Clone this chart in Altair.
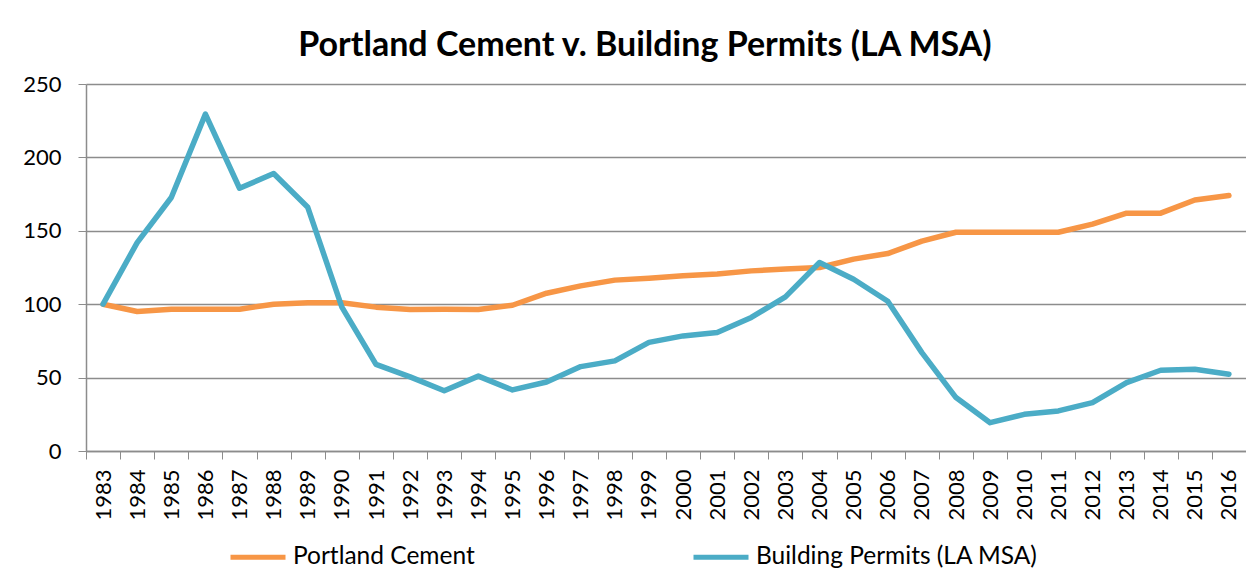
import altair as alt
import pandas as pd

years = list(range(1983, 2017))
cement = [100, 95, 96.6, 96.6, 96.6, 100, 101, 101, 98, 96.4, 96.6, 96.4, 99.3,
          107.5, 112.5, 116.4, 117.7, 119.3, 120.5, 122.7, 124, 125, 130.7, 134.5,
          143, 149, 149, 149, 149, 154.5, 162, 162, 171, 174]
permits = [100, 142, 172.7, 229.5, 179, 189, 166, 98, 59, 50.5, 41, 51, 41.6,
           47, 57.5, 61.4, 74, 78.4, 80.7, 91, 105, 128.4, 117, 102, 67, 36.4,
           19.3, 25, 27.3, 33, 46.6, 55, 55.7, 52.3]
series_names = ["Portland Cement", "Building Permits (LA MSA)"]
series_colors = ["#F79646", "#4BACC6"]

rows = []
for y, c, p in zip(years, cement, permits):
    rows.append({"Year": str(y), "Series": series_names[0], "Value": c})
    rows.append({"Year": str(y), "Series": series_names[1], "Value": p})
df = pd.DataFrame(rows)

FONT = "Lato"
GRID = "#8C8C8C"

chart = alt.Chart(df).mark_line(strokeWidth=5.5, strokeCap="round", strokeJoin="round").encode(
    x=alt.X("Year:O", title=None, bandPosition=0.5,
            scale=alt.Scale(type="band", paddingInner=0, paddingOuter=0),
            axis=alt.Axis(labelAngle=-90, tickBand="extent", tickSize=8, tickColor=GRID,
                          domainColor=GRID, domainWidth=1.5, labelPadding=10,
                          labelFontSize=22, labelFont=FONT, labelColor="#000000", grid=False)),
    y=alt.Y("Value:Q", title=None,
            scale=alt.Scale(domain=[0, 250], nice=False),
            axis=alt.Axis(values=[0, 50, 100, 150, 200, 250], tickSize=8, tickColor=GRID,
                          domainColor=GRID, domainWidth=1.5, gridColor=GRID, gridWidth=1.5,
                          labelPadding=17, labelFontSize=22, labelFont=FONT,
                          labelColor="#000000")),
    color=alt.Color("Series:N", sort=series_names,
                    scale=alt.Scale(domain=series_names, range=series_colors),
                    legend=alt.Legend(title=None, orient="none", direction="horizontal",
                                      legendX=142, legendY=443, padding=0,
                                      symbolType="stroke", symbolSize=3025,
                                      symbolStrokeWidth=5, labelFontSize=24.5,
                                      labelFont=FONT, labelColor="#000000",
                                      labelLimit=500, labelOffset=5, columnPadding=208)),
).properties(
    width=1160,
    height=367,
    padding={"left": 78, "top": 76, "right": 0, "bottom": 119},
    autosize=alt.AutoSizeParams(type="none"),
    title=alt.TitleParams("Portland Cement v. Building Permits (LA MSA)", font=FONT,
                          fontSize=34, fontWeight="bold", color="#000000",
                          anchor="middle", dx=-21, offset=10),
).configure_view(stroke=None)

chart.save("out.html", embed_options={"renderer": "svg", "actions": False})
